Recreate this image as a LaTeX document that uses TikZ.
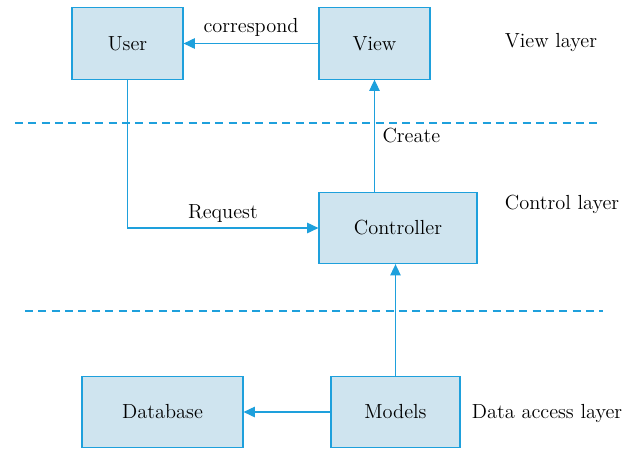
\documentclass[tikz,border=0pt]{standalone}
\usepackage{xcolor}
\usetikzlibrary{arrows.meta}

\definecolor{mvcline}{RGB}{30,160,220}
\definecolor{mvcfill}{RGB}{207,228,239}

\begin{document}
\begin{tikzpicture}[x=0.025cm,y=-0.025cm,>={Triangle[length=2.8mm,width=2.6mm]},
  layerbox/.style={draw=mvcline,fill=mvcfill,line width=0.8pt,minimum height=1.78cm,font=\fontsize{14.5}{16}\selectfont},
  link/.style={->,mvcline,line width=0.8pt},
  sep/.style={draw=mvcline,dash pattern=on 5.7pt off 3.8pt,line width=0.8pt},
  lbl/.style={text=black,font=\fontsize{14.5}{16}\selectfont}]
  \useasboundingbox (0,0) rectangle (633,449);
  % boxes
  \node[layerbox,minimum width=2.775cm] (user) at (127.5,43.5) {User};
  \node[layerbox,minimum width=2.775cm] (view) at (374.5,43.5) {View};
  \node[layerbox,minimum width=3.95cm] (ctrl) at (398,228) {Controller};
  \node[layerbox,minimum width=4.025cm] (db) at (162.5,412) {Database};
  \node[layerbox,minimum width=3.225cm] (models) at (395.5,412) {Models};
  % layer names
  \node[lbl] (vl) at (551,43) {View layer};
  \node[lbl] (cl) at (562,204) {Control layer};
  \node[lbl] (dl) at (547,413) {Data access layer};
  % separators
  \draw[sep] (15,123) -- (598,123);
  \draw[sep] (25,311) -- (603,311);
  % connectors
  \draw[link] (view) -- node[lbl,above,yshift=1pt] {correspond} (user);
  \draw[link] (user.south) |- node[lbl,above,pos=0.75] {Request} (ctrl.west);
  \draw[link] (view.south |- ctrl.north) -- node[lbl,right,xshift=2pt] {Create} (view.south);
  \draw[link] (models.north) -- (models.north |- ctrl.south);
  \draw[link] (models) -- (db);
\end{tikzpicture}
\end{document}
